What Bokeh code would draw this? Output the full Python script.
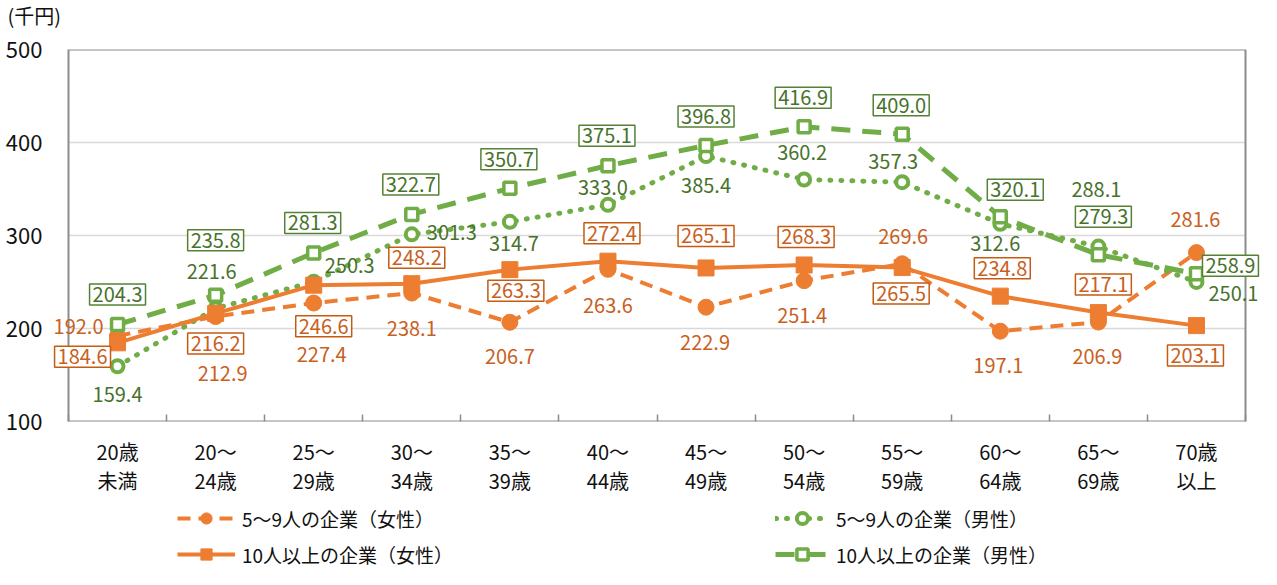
from bokeh.plotting import figure
from bokeh.layouts import column
from bokeh.models import (ColumnDataSource, FixedTicker, Legend, LegendItem, LabelSet,
                          Range1d, Text, Title)
from bokeh.core.properties import value
from bokeh.embed import file_html
from bokeh.resources import INLINE

# ---------------- data ----------------
categories = ["20歳\n未満", "20～\n24歳", "25～\n29歳", "30～\n34歳", "35～\n39歳", "40～\n44歳",
              "45～\n49歳", "50～\n54歳", "55～\n59歳", "60～\n64歳", "65～\n69歳", "70歳\n以上"]
f59 = [192.0, 212.9, 227.4, 238.1, 206.7, 263.6, 222.9, 251.4, 269.6, 197.1, 206.9, 281.6]
m59 = [159.4, 221.6, 250.3, 301.3, 314.7, 333.0, 385.4, 360.2, 357.3, 312.6, 288.1, 250.1]
f10 = [184.6, 216.2, 246.6, 248.2, 263.3, 272.4, 265.1, 268.3, 265.5, 234.8, 217.1, 203.1]
m10 = [204.3, 235.8, 281.3, 322.7, 350.7, 375.1, 396.8, 416.9, 409.0, 320.1, 279.3, 258.9]
series_names = ["5～9人の企業（女性）", "5～9人の企業（男性）",
                "10人以上の企業（女性）", "10人以上の企業（男性）"]
y_ticks = [100, 200, 300, 400, 500]
unit_label = "(千円)"

# label placement (screen px, dy positive = down)
f59_dx = [-39, 7, 8, 0, 0, 0, -1, -2, 1, -2, -1, -1]
f59_dy = [-9, 57, 51, 35, 34, 36, 35, 35, -27, 34, 34, -33]
m59_dx = [0, -4, 36, 40, 4, -5, 0, -2, -9, -5, -2, 37]
m59_dy = [28, -37, -16, -2, 22, -17, 29, -27, -21, 20, -57, 12]
f10_dx = [-35, 0, 10, 5, 6, 4, 0, 2, -1, 2, 5, -1]
f10_dy = [14, 30, 41, -26, 21, -28, -32, -28, 26, -28, -28, 30]
m10_dx = [0, 0, -1, -1, -1, -1, 0, -1, -1, 15, 5, 34]
m10_dy = [-30, -55, -30, -30, -29, -30, -29, -29, -29, -27, -38, -8]

# ---------------- style ----------------
FONT = "'Liberation Sans Narrow', 'Noto Sans CJK JP'"
ORANGE = "#ED7D31"
GREEN = "#70AD47"
ORANGE_TXT = "#C9601E"
GREEN_TXT = "#47722C"
ORANGE_BOX = "#C55A11"
GREEN_BOX = "#548235"
AXIS_GRAY = "#8C8C8C"
GRID_GRAY = "#D9D9D9"

W = 1261
H_HEAD, H_MAIN, H_LEG = 30, 468, 71
PLOT_L, PLOT_R, PLOT_T, PLOT_B = 68, 1245, 49, 423   # visible plot box (page px)
FRAME_L = 50                                          # frame widened so labels are not clipped

xs = list(range(len(categories)))
x_lo, x_hi = -0.5, len(categories) - 0.5
ppu = (PLOT_R - PLOT_L) / (x_hi - x_lo)
x_start = x_lo - (PLOT_L - FRAME_L) / ppu
x_end = x_hi + (W - PLOT_R) / ppu
y_lo, y_hi = y_ticks[0], y_ticks[-1]

# ---------------- header strip (unit) ----------------
ph = figure(width=W, height=H_HEAD, x_range=Range1d(0, 1), y_range=Range1d(0, 1), title=None,
            output_backend="svg", toolbar_location=None, x_axis_location=None,
            y_axis_location=None, min_border=0, min_border_left=FRAME_L)
ph.outline_line_color = None
ph.xgrid.visible = False
ph.ygrid.visible = False
ph.add_layout(Title(text=unit_label, align="left", offset=7 - FRAME_L, standoff=0,
                    vertical_align="middle", text_font=FONT, text_font_size="20px",
                    text_font_style="normal", text_color="#111111"), "above")

# ---------------- main plot ----------------
p = figure(width=W, height=H_MAIN, x_range=Range1d(x_start, x_end),
           y_range=Range1d(y_lo, y_hi), title=None, output_backend="svg",
           toolbar_location=None, min_border_left=FRAME_L, min_border_right=0,
           min_border_top=PLOT_T - H_HEAD, min_border_bottom=H_HEAD + H_MAIN - PLOT_B)
p.background_fill_color = "white"
p.border_fill_color = "white"
p.outline_line_color = None
p.xgrid.visible = False
p.ygrid.visible = False

# grid + plot box
grid_vals = y_ticks[1:-1]
p.segment(x0=[x_lo] * len(grid_vals), x1=[x_hi] * len(grid_vals), y0=grid_vals, y1=grid_vals,
          line_color=GRID_GRAY, line_width=1.5)
p.quad(left=[x_lo], right=[x_hi], bottom=[y_lo], top=[y_hi], fill_color=None,
       line_color=AXIS_GRAY, line_width=2)

yax = p.yaxis[0]
yax.ticker = FixedTicker(ticks=y_ticks)
yax.axis_line_color = None
yax.major_tick_line_color = None
yax.minor_tick_line_color = None
yax.major_label_standoff = 2
yax.major_label_text_font = FONT
yax.major_label_text_font_size = "22px"
yax.major_label_text_color = "#111111"

xax = p.xaxis[0]
xax.ticker = FixedTicker(ticks=xs, minor_ticks=[i + 0.5 for i in range(-1, len(xs))])
xax.axis_line_color = None
xax.major_tick_line_color = None
xax.minor_tick_in = 7
xax.minor_tick_out = 0
xax.minor_tick_line_color = AXIS_GRAY
xax.minor_tick_line_width = 1.5
xax.major_label_overrides = {i: c for i, c in zip(xs, categories)}
xax.major_label_standoff = 9
xax.major_label_text_font = FONT
xax.major_label_text_font_size = "20px"
xax.major_label_text_color = "#111111"
xax.major_label_text_line_height = 1.02

# ---------------- series ----------------
src_f59 = ColumnDataSource(dict(x=xs, y=f59))
src_m59 = ColumnDataSource(dict(x=xs, y=m59))
src_f10 = ColumnDataSource(dict(x=xs, y=f10))
src_m10 = ColumnDataSource(dict(x=xs, y=m10))
sources = [src_f59, src_m59, src_f10, src_m10]

line_styles = [
    dict(line_color=ORANGE, line_width=4, line_dash="13 8"),
    dict(line_color=GREEN, line_width=5, line_dash="1 10", line_cap="round"),
    dict(line_color=ORANGE, line_width=4),
    dict(line_color=GREEN, line_width=5, line_dash="19 12"),
]
marker_styles = [
    dict(marker="circle", size=16, fill_color=ORANGE, line_color=ORANGE, line_width=1),
    dict(marker="circle", size=12, fill_color="white", line_color=GREEN, line_width=4),
    dict(marker="square", size=16, fill_color=ORANGE, line_color=ORANGE, line_width=1),
    dict(marker="square", size=12, fill_color="white", line_color=GREEN, line_width=3.5),
]

for src, ls, ms in zip(sources, line_styles, marker_styles):
    p.line("x", "y", source=src, **ls)
    p.scatter("x", "y", source=src, **ms)

# ---------------- data labels ----------------
text_has_box = "padding" in Text.properties() and "border_line_color" in Text.properties()


def add_labels(vals, dx, dy, color, box_color=None):
    if text_has_box:
        src = ColumnDataSource(dict(x=xs, y=vals, t=[f"{v:.1f}" for v in vals],
                                    dx=dx, dy=dy))
        kw = dict(x="x", y="y", text="t", x_offset="dx", y_offset="dy", source=src,
                  text_align="center", text_baseline="middle", text_font=value(FONT),
                  text_font_size="20px", text_color=color)
        if box_color is not None:
            kw.update(background_fill_color="white", border_line_color=box_color,
                      border_line_width=1.5, padding=3)
        p.text(**kw)
    else:
        src = ColumnDataSource(dict(x=xs, y=vals, t=[f"{v:.1f}" for v in vals],
                                    dx=dx, dy=[-d for d in dy]))
        kw = dict(x="x", y="y", text="t", x_offset="dx", y_offset="dy", source=src,
                  text_align="center", text_baseline="middle", text_font=value(FONT),
                  text_font_size="20px", text_color=color)
        if box_color is not None:
            kw.update(background_fill_color="white", border_line_color=box_color,
                      border_line_width=1.5)
        p.add_layout(LabelSet(**kw))


add_labels(f59, f59_dx, f59_dy, ORANGE_TXT)
add_labels(m59, m59_dx, m59_dy, GREEN_TXT)
add_labels(f10, f10_dx, f10_dy, ORANGE_TXT, ORANGE_BOX)
add_labels(m10, m10_dx, m10_dy, GREEN_TXT, GREEN_BOX)

# ---------------- legend strip ----------------
pl = figure(width=W, height=H_LEG, x_range=Range1d(0, 1), y_range=Range1d(0, 1), title=None,
            output_backend="svg", toolbar_location=None, x_axis_location=None,
            y_axis_location=None, min_border=0, min_border_left=FRAME_L)
pl.outline_line_color = None
pl.xgrid.visible = False
pl.ygrid.visible = False
pl.background_fill_color = "white"
pl.border_fill_color = "white"

leg_r = []
for src, ls, ms in zip(sources, line_styles, marker_styles):
    # same data, outside this strip's ranges: only the legend samples are visible
    r_line = pl.line("x", "y", source=src, **ls)
    r_mark = pl.scatter("x", "y", source=src, **ms)
    leg_r.append([r_line, r_mark])

common = dict(glyph_height=28, label_height=28, spacing=8, padding=0, margin=0,
              label_standoff=7, background_fill_alpha=0, border_line_alpha=0,
              label_text_font=FONT, label_text_font_size="19px",
              label_text_color="#111111", orientation="vertical")
leg1 = Legend(items=[LegendItem(label=series_names[0], renderers=leg_r[0]),
                     LegendItem(label=series_names[2], renderers=leg_r[2])],
              location=(177 - FRAME_L, 1), glyph_width=58, **common)
leg2 = Legend(items=[LegendItem(label=series_names[1], renderers=leg_r[1]),
                     LegendItem(label=series_names[3], renderers=leg_r[3])],
              location=(775 - FRAME_L, 1), glyph_width=54, **common)
pl.add_layout(leg1)
pl.add_layout(leg2)

layout = column(ph, p, pl, spacing=0)
open("out.html", "w").write(file_html(layout, INLINE))
